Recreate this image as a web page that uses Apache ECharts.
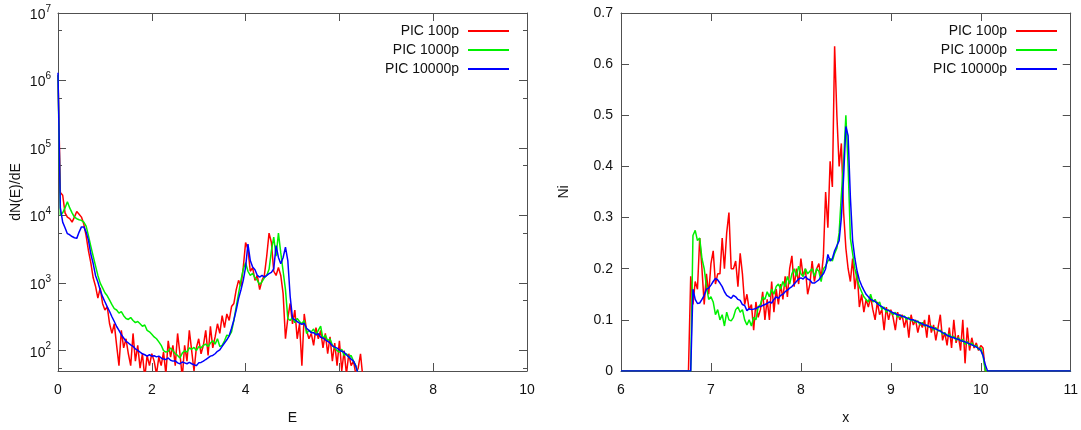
<!DOCTYPE html>
<html><head><meta charset="utf-8">
<script src="https://cdn.jsdelivr.net/npm/echarts@6/dist/echarts.min.js"></script>
<style>html,body{margin:0;padding:0;background:#fff}#c{width:1081px;height:430px}</style>
</head><body><div id="c"></div>
<script>
const seriesNames = ['PIC 100p', 'PIC 1000p', 'PIC 10000p'];
const seriesColors = ['#ff0000', '#00f000', '#0000ff'];

// Left panel: spectrum dN(E)/dE on energy grid E = 0, 0.05, 0.10, ...
const energyStep = 0.05;
const specRed = [
 1200000, 22000, 20000, 11000, 9500, 9000, 8000, 9500, 11500, 10500,
 9500, 7500, 5000, 3000, 2000, 1200, 900, 600, 850, 500,
 400, 450, 250, 180, 250, 120, 60, 200, 110, 150,
 90, 60, 180, 70, 120, 55, 90, 40, 85, 60,
 90, 70, 45, 80, 60, 95, 45, 140, 80, 120,
 60, 180, 90, 40, 120, 70, 200, 100, 50, 110,
 150, 90, 120, 200, 85, 230, 110, 160, 250, 180,
 330, 220, 350, 280, 450, 500, 800, 1100, 900, 1700,
 4000, 3200, 1500, 1700, 1100, 1300, 800, 1100, 1300, 2500,
 5500, 4000, 1500, 1300, 1700, 1300, 700, 150, 300, 500,
 250, 400, 150, 250, 60, 350, 200, 150, 180, 120,
 220, 150, 200, 110, 180, 90, 160, 70, 130, 60,
 140, 50, 100, 45, 90, 60, 70, 45, 55, 90,
 40
];
const specGreen = [
 1200000, 10000, 11000, 13000, 16000, 13000, 11000, 9500, 9000, 8700,
 8500, 8000, 7000, 5000, 3500, 2500, 1800, 1300, 1000, 850,
 720, 650, 560, 480, 420, 400, 360, 380, 330, 300,
 290, 310, 280, 260, 270, 250, 230, 240, 200, 190,
 175, 160, 150, 135, 120, 100, 95, 98, 110, 100,
 90, 85, 78, 92, 100, 95, 110, 105, 112, 100,
 115, 110, 120, 125, 115, 130, 140, 125, 150, 115,
 120, 140, 170, 165, 190, 280, 450, 700, 1100, 1600,
 2000, 1500, 1300, 1400, 1200, 1100, 950, 1050, 1200, 1300,
 1600, 3000, 4800, 2500, 5500, 2800, 1500, 800, 300, 280,
 310, 260, 300, 270, 250, 280, 180, 200, 190, 210,
 170, 200, 230, 150, 170, 140, 150, 120, 110, 100,
 95, 105, 85, 90, 80, 85, 70, 60, 45
];
const specBlue = [
 1300000, 13000, 8000, 6600, 5400, 5200, 4900, 4700, 4600, 5700,
 6800, 6800, 5700, 4300, 2700, 1950, 1300, 1040, 790, 630,
 530, 445, 380, 318, 270, 228, 200, 172, 154, 137,
 130, 122, 116, 106, 101, 95, 90, 87, 83, 87,
 83, 84, 81, 83, 78, 75, 74, 78, 72, 70,
 71, 66, 64, 68, 66, 64, 67, 64, 62, 60,
 66, 67, 70, 74, 78, 83, 85, 90, 98, 103,
 116, 130, 145, 166, 215, 285, 400, 590, 790, 1100,
 1730, 3800, 2160, 1730, 1580, 1300, 1230, 1300, 1230, 1300,
 1380, 1440, 1630, 3600, 2400, 1930, 2400, 3400, 2160, 640,
 300, 285, 270, 255, 245, 255, 215, 200, 185, 185,
 172, 178, 158, 154, 145, 137, 130, 118, 113, 109,
 103, 98, 95, 87, 81, 75, 70, 59, 45
];

// Right panel: Ni(x) on grid x = 6.75, 6.775, ... (zero outside the slab)
const posStart = 6.75;
const posStep = 0.025;
const niRed = [
 0, 0.185, 0.13, 0.175, 0.16, 0.26, 0.2, 0.13, 0.19, 0.15,
 0.21, 0.235, 0.17, 0.19, 0.19, 0.26, 0.2, 0.27, 0.31, 0.2,
 0.2, 0.215, 0.165, 0.23, 0.19, 0.13, 0.15, 0.12, 0.13, 0.08,
 0.135, 0.105, 0.12, 0.155, 0.1, 0.14, 0.1, 0.175, 0.115, 0.16,
 0.13, 0.17, 0.14, 0.185, 0.145, 0.2, 0.225, 0.165, 0.2, 0.17,
 0.22, 0.185, 0.2, 0.15, 0.17, 0.215, 0.175, 0.2, 0.21, 0.18,
 0.225, 0.35, 0.28, 0.41, 0.36, 0.635, 0.5, 0.4, 0.445, 0.31,
 0.24, 0.2, 0.175, 0.22, 0.16, 0.195, 0.125, 0.15, 0.115, 0.14,
 0.125, 0.145, 0.12, 0.1, 0.135, 0.11, 0.12, 0.08, 0.125, 0.1,
 0.12, 0.105, 0.08, 0.115, 0.1, 0.11, 0.085, 0.105, 0.065, 0.11,
 0.09, 0.1, 0.075, 0.095, 0.085, 0.1, 0.065, 0.11, 0.075, 0.09,
 0.06, 0.085, 0.11, 0.06, 0.075, 0.05, 0.085, 0.045, 0.1, 0.055,
 0.07, 0.04, 0.1, 0.015, 0.085, 0.04, 0.065, 0.045, 0.055, 0.04,
 0.05, 0.045, 0, 0
];
const niGreen = [
 0, 0, 0.265, 0.275, 0.255, 0.26, 0.22, 0.2, 0.165, 0.14,
 0.145, 0.135, 0.11, 0.12, 0.1, 0.11, 0.088, 0.115, 0.1, 0.098,
 0.105, 0.12, 0.125, 0.115, 0.12, 0.1, 0.09, 0.1, 0.088, 0.105,
 0.1, 0.125, 0.13, 0.145, 0.14, 0.155, 0.145, 0.16, 0.15, 0.165,
 0.17, 0.16, 0.175, 0.165, 0.185, 0.17, 0.19, 0.2, 0.185, 0.205,
 0.19, 0.185, 0.2, 0.19, 0.195, 0.2, 0.185, 0.2, 0.195, 0.175,
 0.2, 0.205, 0.215, 0.22, 0.215, 0.23, 0.24, 0.27, 0.345, 0.41,
 0.5, 0.4, 0.26, 0.23, 0.2, 0.18, 0.165, 0.155, 0.145, 0.14,
 0.135, 0.15, 0.135, 0.14, 0.13, 0.135, 0.12, 0.125, 0.115, 0.12,
 0.115, 0.11, 0.115, 0.105, 0.11, 0.105, 0.108, 0.1, 0.105, 0.098,
 0.1, 0.095, 0.098, 0.09, 0.095, 0.088, 0.09, 0.085, 0.088, 0.08,
 0.085, 0.078, 0.08, 0.072, 0.075, 0.068, 0.072, 0.065, 0.068, 0.06,
 0.065, 0.058, 0.062, 0.052, 0.058, 0.05, 0.055, 0.048, 0.05, 0.042,
 0.045, 0.03, 0, 0
];
const niBlue = [
 0, 0, 0.16, 0.14, 0.132, 0.133, 0.14, 0.148, 0.16, 0.162,
 0.168, 0.175, 0.181, 0.178, 0.172, 0.165, 0.155, 0.148, 0.145, 0.142,
 0.148, 0.145, 0.14, 0.138, 0.13, 0.128, 0.118, 0.122, 0.12, 0.121,
 0.122, 0.125, 0.126, 0.128, 0.13, 0.132, 0.135, 0.133, 0.14, 0.145,
 0.142, 0.148, 0.15, 0.155, 0.158, 0.162, 0.165, 0.17, 0.175, 0.18,
 0.182, 0.18, 0.185, 0.18, 0.178, 0.172, 0.172, 0.175, 0.178, 0.185,
 0.19, 0.2, 0.228, 0.215, 0.22, 0.235, 0.245, 0.255, 0.3, 0.38,
 0.478, 0.46, 0.34, 0.255, 0.22, 0.195, 0.178, 0.167, 0.158, 0.15,
 0.145, 0.14, 0.138, 0.136, 0.132, 0.128, 0.126, 0.122, 0.12, 0.118,
 0.116, 0.114, 0.112, 0.11, 0.109, 0.107, 0.106, 0.104, 0.102, 0.1,
 0.1, 0.098, 0.096, 0.094, 0.092, 0.09, 0.089, 0.087, 0.085, 0.084,
 0.082, 0.08, 0.078, 0.075, 0.073, 0.07, 0.068, 0.066, 0.065, 0.063,
 0.062, 0.06, 0.058, 0.057, 0.055, 0.053, 0.051, 0.049, 0.047, 0.044,
 0.04, 0.03, 0.012, 0
];
const posLeftEdge = 6, posRightEdge = 11;

const FONT = 'Liberation Sans, Arial, sans-serif';
const AX = '#505050';

function specPairs(arr) { return arr.map((v, i) => [+(i * energyStep).toFixed(3), v]); }
function niPairs(arr) {
  const pts = arr.map((v, i) => [+(posStart + i * posStep).toFixed(4), v]);
  return [[posLeftEdge, 0]].concat(pts, [[posRightEdge, 0]]);
}

function xAx(grid, min, max, interval, pos, name) {
  return {
    type: 'value', gridIndex: grid, min, max, interval, position: pos,
    axisLine: { show: true, onZero: false, lineStyle: { color: AX, width: 1 } },
    axisTick: { show: true, inside: true, length: 8, lineStyle: { color: AX } },
    axisLabel: { show: pos === 'bottom', margin: 12, fontSize: 14, fontFamily: FONT, color: '#111' },
    splitLine: { show: false },
    name: pos === 'bottom' ? name : '', nameLocation: 'middle', nameGap: 40,
    nameTextStyle: { fontSize: 14, fontFamily: FONT, color: '#111' }
  };
}
function yLin(pos, name) {
  return {
    type: 'value', gridIndex: 1, min: 0, max: 0.7, interval: 0.1, position: pos,
    axisLine: { show: true, onZero: false, lineStyle: { color: AX, width: 1 } },
    axisTick: { show: true, inside: true, length: 8, lineStyle: { color: AX } },
    axisLabel: { show: pos === 'left', margin: 8, fontSize: 14, fontFamily: FONT, color: '#111',
      formatter: v => v === 0 ? '0' : v.toFixed(1) },
    splitLine: { show: false },
    name: pos === 'left' ? name : '', nameLocation: 'middle', nameGap: 50,
    nameTextStyle: { fontSize: 14, fontFamily: FONT, color: '#111' }
  };
}
function yLog(pos, name) {
  return {
    type: 'log', logBase: 10, gridIndex: 0, min: 50, max: 10000000, position: pos,
    axisLine: { show: true, onZero: false, lineStyle: { color: AX, width: 1 } },
    axisTick: { show: true, inside: true, length: 8, lineStyle: { color: AX } },
    minorTick: { show: true, splitNumber: 2, length: 4, lineStyle: { color: AX } },
    axisLabel: { show: pos === 'left', margin: 7, showMinLabel: false,
      formatter: v => '{b|10}{s|' + Math.round(Math.log10(v)) + '}',
      rich: {
        b: { fontSize: 14, fontFamily: FONT, color: '#111', verticalAlign: 'bottom', padding: [4, 0, 0, 0] },
        s: { fontSize: 10, fontFamily: FONT, color: '#111', verticalAlign: 'top' }
      } },
    splitLine: { show: false }, minorSplitLine: { show: false },
    name: pos === 'left' ? name : '', nameLocation: 'middle', nameGap: 35,
    nameTextStyle: { fontSize: 14, fontFamily: FONT, color: '#111' }
  };
}

function lineSeries(name, color, xi, yi, data) {
  return { name, type: 'line', xAxisIndex: xi, yAxisIndex: yi, data, color,
    showSymbol: false, symbol: 'none', clip: true, animation: false,
    lineStyle: { color, width: 1.5 }, itemStyle: { color } };
}

function legend(right) {
  return { data: seriesNames, orient: 'vertical', align: 'right', right, top: 19,
    icon: 'rect', itemWidth: 41, itemHeight: 2, itemGap: 5, selectedMode: false,
    textStyle: { fontSize: 14, fontFamily: FONT, color: '#111', padding: [0, 4, 0, 0] } };
}

const chart = echarts.init(document.getElementById('c'), null, { renderer: 'canvas' });
chart.setOption({
  backgroundColor: '#fff',
  animation: false,
  grid: [
    { left: 58, right: 554, top: 13, bottom: 56 },
    { left: 621, right: 9, top: 13, bottom: 56 }
  ],
  legend: [legend(567), legend(19)],
  xAxis: [
    xAx(0, 0, 10, 2, 'bottom', 'E'),
    xAx(0, 0, 10, 2, 'top', ''),
    xAx(1, 6, 11, 1, 'bottom', 'x'),
    xAx(1, 6, 11, 1, 'top', '')
  ],
  yAxis: [yLog('left', 'dN(E)/dE'), yLog('right', ''), yLin('left', 'Ni'), yLin('right', '')],
  series: [
    lineSeries(seriesNames[0], seriesColors[0], 0, 0, specPairs(specRed)),
    lineSeries(seriesNames[1], seriesColors[1], 0, 0, specPairs(specGreen)),
    lineSeries(seriesNames[2], seriesColors[2], 0, 0, specPairs(specBlue)),
    lineSeries(seriesNames[0], seriesColors[0], 2, 2, niPairs(niRed)),
    lineSeries(seriesNames[1], seriesColors[1], 2, 2, niPairs(niGreen)),
    lineSeries(seriesNames[2], seriesColors[2], 2, 2, niPairs(niBlue))
  ]
});
</script></body></html>
